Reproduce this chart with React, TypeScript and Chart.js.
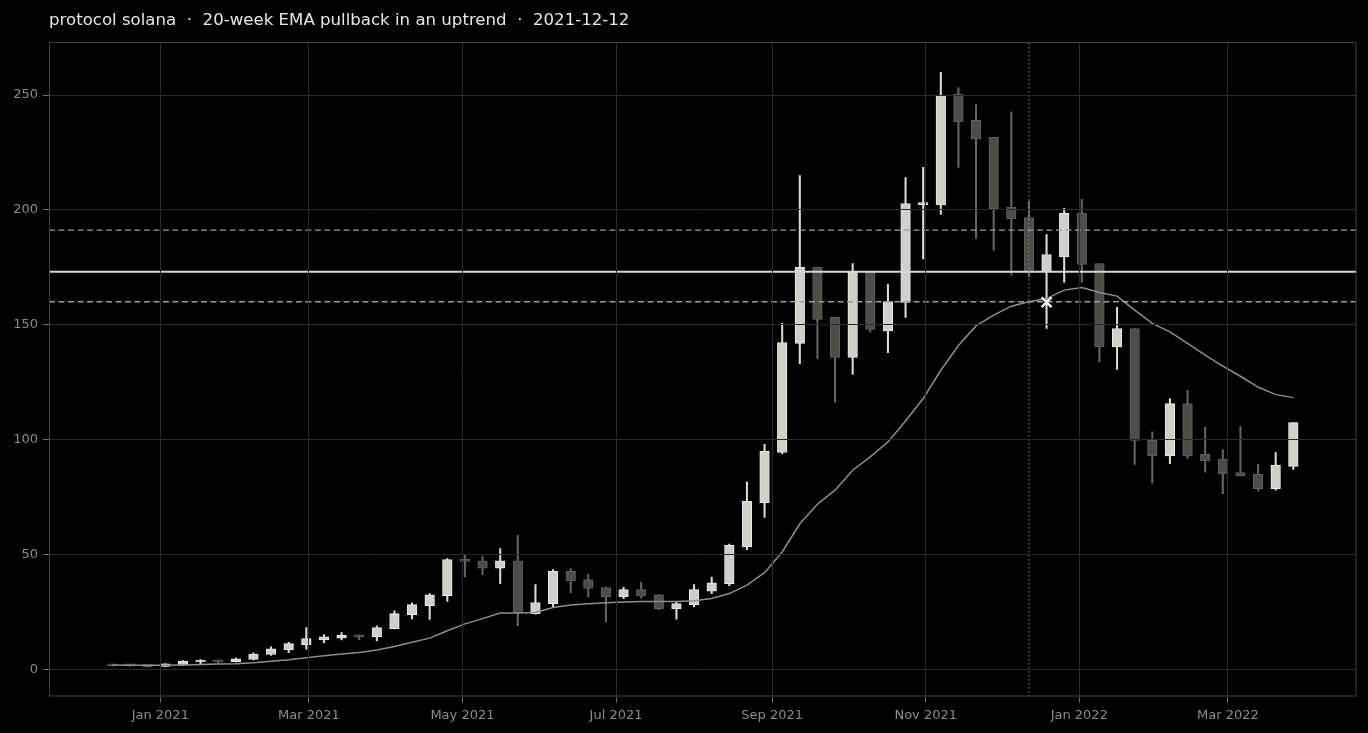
import React, { useEffect, useRef } from "react";
import { Chart, registerables } from "chart.js";

Chart.register(...registerables);

const TITLE = "protocol solana  \u00b7  20-week EMA pullback in an uptrend  \u00b7  2021-12-12";

const WEEKS = [
  "2020-12-13", "2020-12-20", "2020-12-27", "2021-01-03", "2021-01-10", "2021-01-17", "2021-01-24", "2021-01-31",
  "2021-02-07", "2021-02-14", "2021-02-21", "2021-02-28", "2021-03-07", "2021-03-14", "2021-03-21", "2021-03-28",
  "2021-04-04", "2021-04-11", "2021-04-18", "2021-04-25", "2021-05-02", "2021-05-09", "2021-05-16", "2021-05-23",
  "2021-05-30", "2021-06-06", "2021-06-13", "2021-06-20", "2021-06-27", "2021-07-04", "2021-07-11", "2021-07-18",
  "2021-07-25", "2021-08-01", "2021-08-08", "2021-08-15", "2021-08-22", "2021-08-29", "2021-09-05", "2021-09-12",
  "2021-09-19", "2021-09-26", "2021-10-03", "2021-10-10", "2021-10-17", "2021-10-24", "2021-10-31", "2021-11-07",
  "2021-11-14", "2021-11-21", "2021-11-28", "2021-12-05", "2021-12-12", "2021-12-19", "2021-12-26", "2022-01-02",
  "2022-01-09", "2022-01-16", "2022-01-23", "2022-01-30", "2022-02-06", "2022-02-13", "2022-02-20", "2022-02-27",
  "2022-03-06", "2022-03-13", "2022-03-20", "2022-03-27",
];

const OPEN = [
  1.9, 1.6, 1.6, 1.3, 2.0, 3.2, 4.0, 3.4,
  4.3, 6.5, 8.5, 10.8, 12.8, 13.6, 14.8, 14.1,
  17.7, 23.8, 27.7, 32.1, 47.6, 47.3, 44.1, 47.3,
  24.3, 28.6, 42.7, 39.1, 35.6, 31.5, 34.7, 32.5,
  26.4, 28.2, 34.0, 37.3, 53.3, 72.6, 94.4, 141.9,
  175.0, 153.2, 135.8, 173.1, 147.3, 159.7, 202.3, 202.2,
  250.3, 239.0, 231.6, 201.2, 196.7, 173.0, 179.6, 198.5,
  176.7, 140.4, 148.4, 99.7, 92.9, 115.7, 93.6, 91.5,
  85.7, 84.9, 78.7, 88.4,
];

const HIGH = [
  2.2, 1.9, 1.8, 2.5, 3.8, 4.3, 4.1, 5.0,
  7.2, 9.8, 11.8, 18.2, 15.2, 16.0, 15.0, 19.0,
  25.5, 29.0, 33.0, 48.2, 50.0, 49.2, 52.6, 58.4,
  36.9, 43.4, 43.9, 41.5, 35.9, 35.7, 37.9, 32.7,
  29.6, 36.9, 40.2, 54.5, 81.6, 98.0, 150.6, 214.9,
  175.0, 153.2, 176.7, 173.1, 167.6, 214.1, 218.5, 259.9,
  253.3, 245.9, 231.6, 242.7, 203.8, 189.3, 200.7, 204.6,
  176.7, 157.6, 148.4, 103.4, 117.9, 121.5, 105.5, 95.7,
  105.8, 89.3, 94.4, 107.4,
];

const LOW = [
  1.4, 1.4, 1.0, 1.2, 1.7, 2.5, 2.6, 3.3,
  4.1, 6.1, 7.3, 8.8, 11.6, 12.8, 12.9, 12.4,
  17.6, 22.0, 21.7, 29.6, 40.2, 41.2, 37.3, 19.0,
  24.0, 27.2, 33.4, 31.6, 20.6, 30.8, 31.0, 26.0,
  21.9, 27.2, 33.0, 36.4, 52.1, 66.1, 93.9, 133.1,
  135.3, 116.2, 128.4, 146.9, 137.9, 153.2, 178.7, 198.0,
  218.5, 187.6, 182.5, 171.6, 171.0, 148.4, 168.4, 168.4,
  133.8, 130.6, 89.2, 81.1, 89.6, 91.8, 85.9, 76.5,
  84.2, 77.7, 78.0, 87.0,
];

const CLOSE = [
  1.6, 1.5, 1.2, 2.4, 3.6, 4.0, 3.3, 4.6,
  6.7, 9.0, 11.2, 13.4, 14.2, 14.8, 14.2, 18.2,
  24.3, 28.2, 32.5, 47.8, 47.0, 44.1, 47.3, 24.7,
  29.1, 42.7, 38.5, 35.2, 31.7, 34.7, 32.0, 26.4,
  28.6, 34.7, 37.7, 54.0, 73.2, 94.9, 142.3, 175.0,
  152.3, 135.8, 173.1, 148.0, 160.1, 202.8, 202.8, 250.0,
  238.4, 231.0, 200.5, 196.1, 173.0, 180.6, 198.5, 176.3,
  140.4, 148.4, 99.7, 92.9, 115.7, 92.9, 90.7, 85.2,
  84.2, 78.7, 88.9, 107.4,
];

const EMA20 = [
  1.9, 1.8, 1.8, 1.8, 1.9, 2.1, 2.3, 2.5,
  2.9, 3.5, 4.2, 5.1, 5.9, 6.7, 7.4, 8.4,
  10.0, 11.8, 13.6, 16.8, 19.8, 22.1, 24.5, 24.5,
  24.8, 26.9, 28.0, 28.6, 29.0, 29.3, 29.6, 29.5,
  29.6, 29.9, 30.9, 33.0, 36.7, 42.1, 51.1, 63.4,
  71.9, 78.0, 86.7, 92.5, 99.0, 108.1, 117.9, 130.2,
  141.0, 149.5, 154.2, 158.1, 160.0, 161.4, 165.1, 166.2,
  164.1, 162.5, 156.4, 150.6, 146.9, 141.9, 136.8, 132.0,
  127.6, 122.9, 119.6, 118.3,
];

const X_TICK_DATES = ["2021-01-01", "2021-03-01", "2021-05-01", "2021-07-01", "2021-09-01", "2021-11-01", "2022-01-01", "2022-03-01"];
const X_TICK_LABELS = ["Jan 2021", "Mar 2021", "May 2021", "Jul 2021", "Sep 2021", "Nov 2021", "Jan 2022", "Mar 2022"];
const Y_TICKS = [0, 50, 100, 150, 200, 250];

const EPOCH = "2021-01-01";
const X_LIMITS_DAYS = [-44.2, 475.1];
const Y_LIMITS = [-11.8, 273.1];

const LEVEL_MAIN = 173.1;
const LEVEL_UPPER = 191.2;
const LEVEL_LOWER = 160.0;
const SIGNAL_DATE = "2021-12-12";
const ENTRY_DATE = "2021-12-19";
const ENTRY_PRICE = 159.8;

function dayNum(s: string): number {
  const [y, m, d] = s.split("-").map(Number);
  const [ey, em, ed] = EPOCH.split("-").map(Number);
  return (Date.UTC(y, m - 1, d) - Date.UTC(ey, em - 1, ed)) / 86400000;
}

const UP_FILL = "#d0d0c8";
const UP_EDGE = "#ececE4";
const UP_WICK = "#dcdcd4";
const DN_FILL = "#4e4e49";
const DN_EDGE = "#60605b";
const DN_WICK = "#66665f";

export default function App() {
  const ref = useRef<HTMLCanvasElement | null>(null);

  useEffect(() => {
    const canvas = ref.current;
    if (!canvas) return;
    const xs = WEEKS.map(dayNum);
    const up = WEEKS.map((_, i) => CLOSE[i] >= OPEN[i]);
    const [xMin, xMax] = X_LIMITS_DAYS;
    const [yMin, yMax] = Y_LIMITS;
    const sig = dayNum(SIGNAL_DATE);

    const framePlugin = {
      id: "frame",
      afterDraw(chart: any) {
        const { ctx, chartArea } = chart;
        ctx.save();
        ctx.strokeStyle = "#404040";
        ctx.lineWidth = 1;
        ctx.strokeRect(chartArea.left + 0.5, chartArea.top + 0.5, chartArea.right - chartArea.left - 1, chartArea.bottom - chartArea.top - 1);
        ctx.restore();
      },
    };

    const hline = (v: number) => [{ x: xMin, y: v }, { x: xMax, y: v }];

    const chart = new Chart(canvas, {
      type: "line",
      data: {
        datasets: [
          {
            type: "bar",
            label: "wick",
            data: xs.map((x, i) => ({ x, y: [LOW[i], HIGH[i]] })),
            backgroundColor: up.map((u) => (u ? UP_WICK : DN_WICK)),
            borderWidth: 0,
            grouped: false,
            barThickness: 1.4,
            order: 6,
          } as any,
          {
            type: "bar",
            label: "body",
            data: xs.map((x, i) => ({ x, y: [OPEN[i], CLOSE[i]] })),
            backgroundColor: up.map((u) => (u ? UP_FILL : DN_FILL)),
            borderColor: up.map((u) => (u ? UP_EDGE : DN_EDGE)),
            borderWidth: 1,
            borderSkipped: false,
            grouped: false,
            barThickness: 9.6,
            minBarLength: 2,
            order: 5,
          } as any,
          {
            type: "line",
            label: "EMA 20",
            data: xs.map((x, i) => ({ x, y: EMA20[i] })),
            borderColor: "#8e8e8a",
            borderWidth: 1.5,
            pointRadius: 0,
            tension: 0,
            order: 4,
          },
          {
            type: "line",
            label: "upper",
            data: hline(LEVEL_UPPER),
            borderColor: "#9c9c98",
            borderWidth: 1.4,
            borderDash: [6, 3.5],
            pointRadius: 0,
            order: 3,
          },
          {
            type: "line",
            label: "lower",
            data: hline(LEVEL_LOWER),
            borderColor: "#9c9c98",
            borderWidth: 1.4,
            borderDash: [6, 3.5],
            pointRadius: 0,
            order: 3,
          },
          {
            type: "line",
            label: "level",
            data: hline(LEVEL_MAIN),
            borderColor: "#d8d8d0",
            borderWidth: 2,
            pointRadius: 0,
            order: 3,
          },
          {
            type: "line",
            label: "signal",
            data: [{ x: sig, y: yMin }, { x: sig, y: yMax }],
            borderColor: "#8a8a8a",
            borderWidth: 1,
            borderDash: [1.5, 2.5],
            pointRadius: 0,
            order: 2,
          },
          {
            type: "line",
            label: "entry",
            data: [{ x: dayNum(ENTRY_DATE), y: ENTRY_PRICE }],
            showLine: false,
            pointStyle: "crossRot",
            pointRadius: 7,
            pointBorderWidth: 2.5,
            pointBorderColor: "#f2f2ea",
            pointBackgroundColor: "#f2f2ea",
            order: 1,
          } as any,
        ],
      },
      options: {
        animation: false,
        responsive: false,
        maintainAspectRatio: false,
        events: [],
        layout: { padding: { top: 42, right: 11.5, left: 0, bottom: 0 } },
        plugins: { legend: { display: false }, tooltip: { enabled: false }, title: { display: false } },
        scales: {
          x: {
            type: "linear",
            min: xMin,
            max: xMax,
            offset: false,
            grid: { color: "#2a2a2a", z: 1, offset: false, drawTicks: true, tickLength: 6, tickColor: "#6e6e6e" },
            border: { display: false },
            ticks: {
              color: "#8c8c8c",
              font: { family: "DejaVu Sans", size: 13 },
              padding: 5,
              autoSkip: false,
              maxRotation: 0,
              callback: (_v: any, i: number) => X_TICK_LABELS[i] ?? "",
            },
            afterBuildTicks: (s: any) => {
              s.ticks = X_TICK_DATES.map((d) => ({ value: dayNum(d) }));
            },
            afterFit: (s: any) => {
              s.height = 36.5;
            },
          } as any,
          y: {
            type: "linear",
            min: yMin,
            max: yMax,
            grid: { color: "#2a2a2a", z: 1, drawTicks: true, tickLength: 6, tickColor: "#6e6e6e" },
            border: { display: false },
            ticks: {
              color: "#8c8c8c",
              font: { family: "DejaVu Sans", size: 13 },
              padding: 5,
              callback: (v: any) => String(v),
            },
            afterBuildTicks: (s: any) => {
              s.ticks = Y_TICKS.map((v) => ({ value: v }));
            },
            afterFit: (s: any) => {
              s.width = 49;
            },
          } as any,
        },
      },
      plugins: [framePlugin],
    });
    return () => chart.destroy();
  }, []);

  return (
    <div style={{ position: "fixed", left: 0, top: 0, width: 1368, height: 733, background: "#000", overflow: "hidden" }}>
      <div
        style={{
          position: "absolute",
          left: 49,
          top: 10,
          fontFamily: "'DejaVu Sans', sans-serif",
          fontSize: 16.6,
          lineHeight: "20px",
          color: "#e6e6e2",
          whiteSpace: "pre",
        }}
      >
        {TITLE}
      </div>
      <canvas ref={ref} width={1368} height={733} style={{ display: "block", width: 1368, height: 733 }} />
    </div>
  );
}
